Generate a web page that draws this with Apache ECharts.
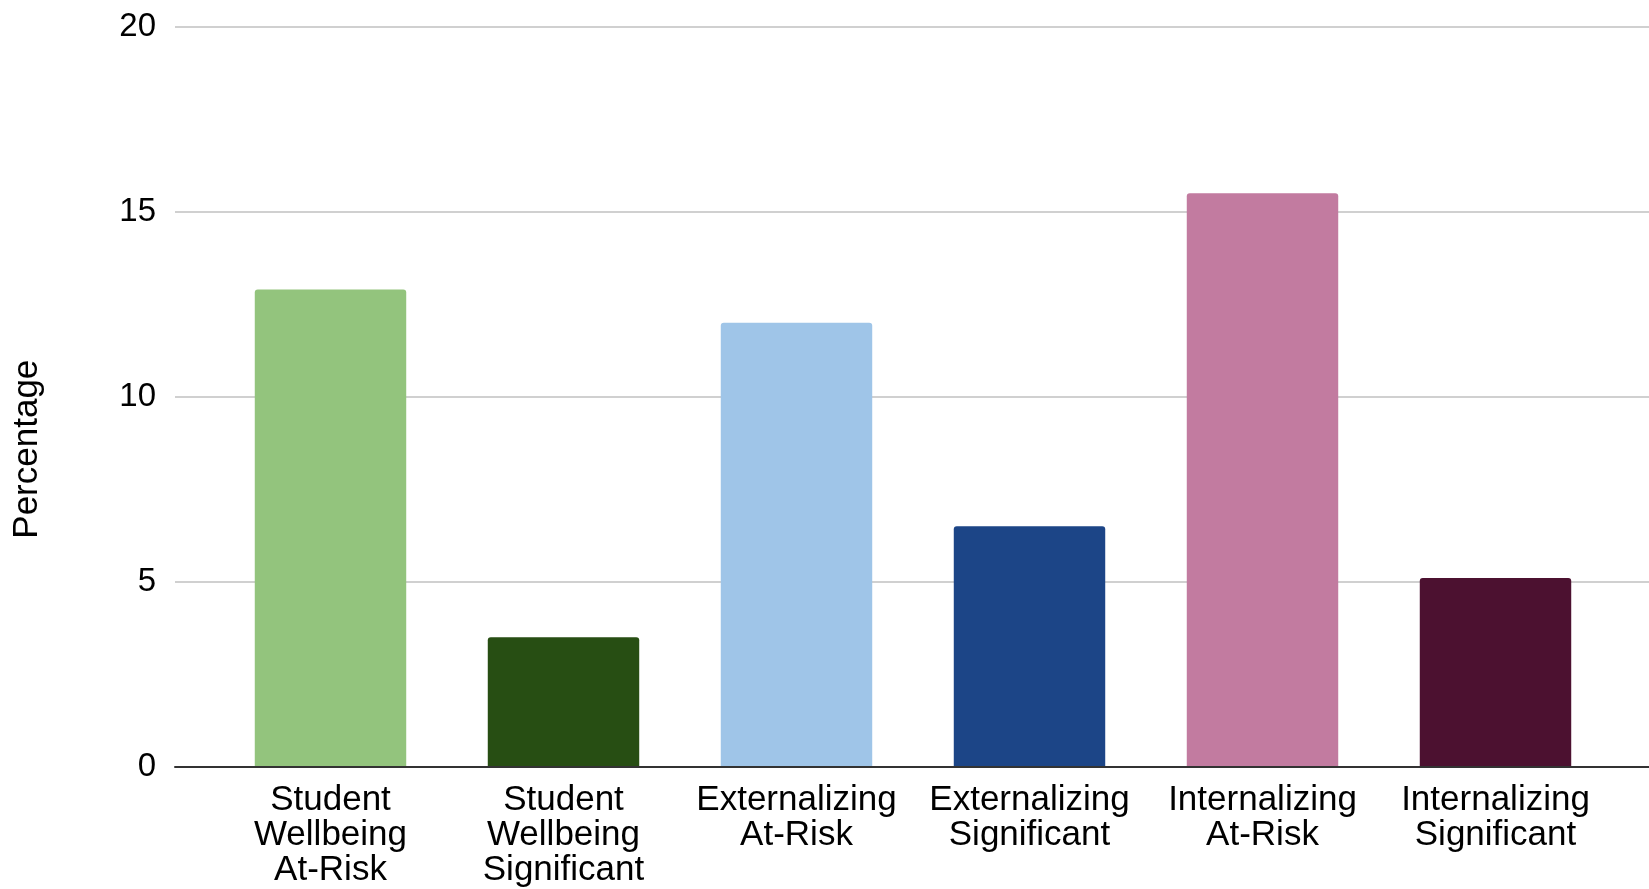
<!DOCTYPE html>
<html>
<head>
<meta charset="utf-8">
<script src="https://cdn.jsdelivr.net/npm/echarts@6/dist/echarts.min.js"></script>
<style>
html,body{margin:0;padding:0;background:#fff;}
#chart{width:1649px;height:889px;}
</style>
</head>
<body>
<div id="chart"></div>
<script>
const categories = [
  "Student\nWellbeing\nAt-Risk",
  "Student\nWellbeing\nSignificant",
  "Externalizing\nAt-Risk",
  "Externalizing\nSignificant",
  "Internalizing\nAt-Risk",
  "Internalizing\nSignificant"
];
const percentages = [12.9, 3.5, 12.0, 6.5, 15.5, 5.1];
const barColors = ["#93c47d", "#274e13", "#9fc5e8", "#1c4587", "#c27ba0", "#4c1130"];
const yTicks = { min: 0, max: 20, interval: 5 };
const yAxisTitle = "Percentage";

const FONT = "'Liberation Sans', Arial, sans-serif";
const chart = echarts.init(document.getElementById('chart'), null, { renderer: 'canvas' });

const option = {
  backgroundColor: '#ffffff',
  animation: false,
  textStyle: { fontFamily: FONT },
  grid: [
    { left: 175, right: 0, top: 26.7, bottom: 122.3, containLabel: false },
    { left: 214, right: 37, top: 26.7, bottom: 122.3, containLabel: false }
  ],
  xAxis: [
    {
      gridIndex: 0, type: 'category', data: categories, z: 5,
      axisLine: { show: true, lineStyle: { color: '#333333', width: 2 } },
      axisTick: { show: false }, axisLabel: { show: false }, splitLine: { show: false }
    },
    {
      gridIndex: 1, type: 'category', data: categories,
      axisLine: { show: false }, axisTick: { show: false },
      axisLabel: {
        show: true, interval: 0, margin: 16,
        fontFamily: FONT, fontSize: 35, lineHeight: 35, color: '#000000', align: 'center'
      }
    }
  ],
  yAxis: [
    {
      gridIndex: 0, type: 'value', min: yTicks.min, max: yTicks.max, interval: yTicks.interval,
      name: yAxisTitle, nameLocation: 'middle', nameGap: 130, nameRotate: 90,
      nameTextStyle: { fontFamily: FONT, fontSize: 35, color: '#000000', padding: [0, 105, 0, 0] },
      axisLine: { show: false }, axisTick: { show: false },
      axisLabel: { fontFamily: FONT, fontSize: 33, color: '#000000', margin: 19 },
      splitLine: { show: true, lineStyle: { color: '#d0d0d0', width: 2 } }
    },
    {
      gridIndex: 1, type: 'value', min: yTicks.min, max: yTicks.max, interval: yTicks.interval,
      show: false, splitLine: { show: false }
    }
  ],
  series: [
    {
      type: 'bar', xAxisIndex: 1, yAxisIndex: 1,
      data: percentages.map((v, i) => ({ value: v, itemStyle: { color: barColors[i] } })),
      barCategoryGap: '35%',
      itemStyle: { borderRadius: [3, 3, 0, 0] }
    }
  ]
};
chart.setOption(option);
</script>
</body>
</html>
